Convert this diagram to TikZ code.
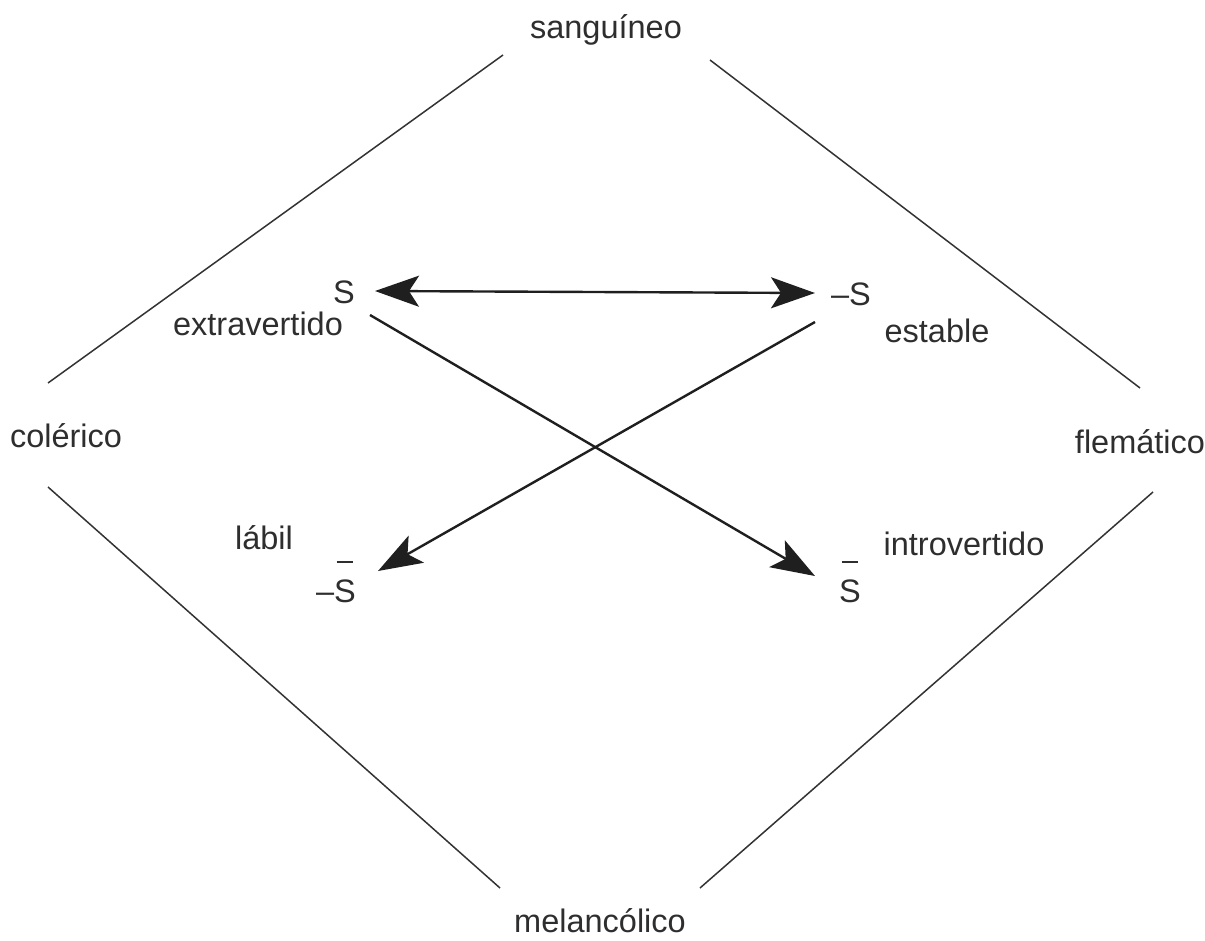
\documentclass[tikz,border=0pt]{standalone}
\usepackage{fontspec}
\setmainfont{Liberation Sans}
\usetikzlibrary{arrows.meta}
\newcommand{\barS}{{\ooalign{S\cr\hidewidth\raisebox{1.2em}{\rule{0.52em}{1.8pt}}\hidewidth\cr}}}
\begin{document}
\begin{tikzpicture}[x=1pt,y=-1pt,
  lbl/.style={font=\fontsize{32.5}{38}\selectfont, text=black!82, inner sep=0pt, anchor=base},
  side/.style={line width=1.5pt, black!80},
  tip/.tip={Stealth[length=44pt,width=31pt,inset=10pt]},
  arr/.style={line width=2.4pt, black!88, -tip},
  darr/.style={line width=2.4pt, black!88, tip-tip}]
\useasboundingbox (0,0) rectangle (1205,940);
% diamond sides
\coordinate (tl1) at (48,383); \coordinate (tl2) at (503,55);
\coordinate (tr1) at (710,60); \coordinate (tr2) at (1140,388);
\coordinate (bl1) at (48,487); \coordinate (bl2) at (500,888);
\coordinate (br1) at (700,888); \coordinate (br2) at (1153,492);
\draw[side] (tl1) -- (tl2);
\draw[side] (tr1) -- (tr2);
\draw[side] (bl1) -- (bl2);
\draw[side] (br1) -- (br2);
% labels
\node[lbl] (sang) at (606,38) {sanguíneo};
\node[lbl] (col) at (66,447) {colérico};
\node[lbl] (fle) at (1140,453) {flemático};
\node[lbl] (mel) at (600,932) {melancólico};
\node[lbl] (S) at (344,303) {S};
\node[lbl] (extra) at (258,335) {extravertido};
\node[lbl] (mS) at (851,305) {–S};
\node[lbl] (est) at (937,342) {estable};
\node[lbl] (lab) at (264,549) {lábil};
\node[lbl] (mSb) at (336,602) {–\barS};
\node[lbl] (Sb) at (850,602) {\barS};
\node[lbl] (intro) at (964,555) {introvertido};
% arrows
\coordinate (a1) at (375,291); \coordinate (a2) at (815,293);
\coordinate (b1) at (370,315); \coordinate (b2) at (815,576);
\coordinate (c1) at (815,322); \coordinate (c2) at (378,571);
\draw[darr] (a1) -- (a2);
\draw[arr] (b1) -- (b2);
\draw[arr] (c1) -- (c2);
\end{tikzpicture}
\end{document}
